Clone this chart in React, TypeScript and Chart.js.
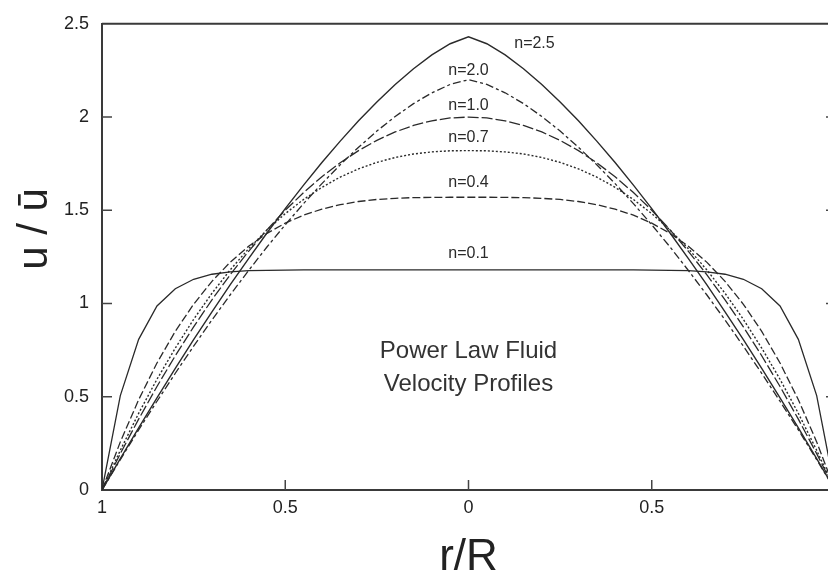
import React, { useEffect, useRef } from "react";
import { Chart, registerables } from "chart.js";

Chart.register(...registerables);

// r/R positions (plotted from wall to wall)
const R = [-1, -0.95, -0.9, -0.85, -0.8, -0.75, -0.7, -0.65, -0.6, -0.55, -0.5, -0.45, -0.4, -0.35, -0.3, -0.25, -0.2, -0.15, -0.1, -0.05, 0, 0.05, 0.1, 0.15, 0.2, 0.25, 0.3, 0.35, 0.4, 0.45, 0.5, 0.55, 0.6, 0.65, 0.7, 0.75, 0.8, 0.85, 0.9, 0.95, 1];

// u / ū
const N25 = [0, 0.168, 0.333, 0.494, 0.652, 0.806, 0.955, 1.101, 1.241, 1.378, 1.509, 1.635, 1.756, 1.871, 1.98, 2.081, 2.175, 2.259, 2.333, 2.393, 2.43, 2.393, 2.333, 2.259, 2.175, 2.081, 1.98, 1.871, 1.756, 1.635, 1.509, 1.378, 1.241, 1.101, 0.955, 0.806, 0.652, 0.494, 0.333, 0.168, 0];
const N20 = [0, 0.163, 0.322, 0.476, 0.626, 0.771, 0.912, 1.047, 1.177, 1.303, 1.422, 1.536, 1.643, 1.744, 1.838, 1.925, 2.003, 2.072, 2.13, 2.175, 2.2, 2.175, 2.13, 2.072, 2.003, 1.925, 1.838, 1.744, 1.643, 1.536, 1.422, 1.303, 1.177, 1.047, 0.912, 0.771, 0.626, 0.476, 0.322, 0.163, 0];
const N10 = [0, 0.195, 0.38, 0.555, 0.72, 0.875, 1.02, 1.155, 1.28, 1.395, 1.5, 1.595, 1.68, 1.755, 1.82, 1.875, 1.92, 1.955, 1.98, 1.995, 2.0, 1.995, 1.98, 1.955, 1.92, 1.875, 1.82, 1.755, 1.68, 1.595, 1.5, 1.395, 1.28, 1.155, 1.02, 0.875, 0.72, 0.555, 0.38, 0.195, 0];
const N07 = [0, 0.213, 0.411, 0.594, 0.761, 0.915, 1.055, 1.181, 1.294, 1.394, 1.482, 1.558, 1.623, 1.678, 1.722, 1.757, 1.783, 1.802, 1.813, 1.819, 1.82, 1.819, 1.813, 1.802, 1.783, 1.757, 1.722, 1.678, 1.623, 1.558, 1.482, 1.394, 1.294, 1.181, 1.055, 0.915, 0.761, 0.594, 0.411, 0.213, 0];
const N04 = [0, 0.258, 0.484, 0.681, 0.851, 0.996, 1.119, 1.222, 1.307, 1.376, 1.431, 1.474, 1.506, 1.53, 1.547, 1.558, 1.564, 1.568, 1.569, 1.57, 1.57, 1.57, 1.569, 1.568, 1.564, 1.558, 1.547, 1.53, 1.506, 1.474, 1.431, 1.376, 1.307, 1.222, 1.119, 0.996, 0.851, 0.681, 0.484, 0.258, 0];
const N01 = [0, 0.506, 0.808, 0.987, 1.079, 1.13, 1.157, 1.17, 1.176, 1.178, 1.179, 1.18, 1.18, 1.18, 1.18, 1.18, 1.18, 1.18, 1.18, 1.18, 1.18, 1.18, 1.18, 1.18, 1.18, 1.18, 1.18, 1.18, 1.18, 1.18, 1.179, 1.178, 1.176, 1.17, 1.157, 1.13, 1.079, 0.987, 0.808, 0.506, 0];

const CURVE_LABELS = ["n=2.5", "n=2.0", "n=1.0", "n=0.7", "n=0.4", "n=0.1"];
const LABEL_X = [0.18, 0, 0, 0, 0, 0];
const LABEL_Y = [2.395, 2.25, 2.06, 1.89, 1.65, 1.27];

const NOTE_LINES = ["Power Law Fluid", "Velocity Profiles"];
const NOTE_Y = [0.709, 0.53];

const X_TITLE = "r/R";
const Y_TITLE = "u / ū";
const Y_TICKS = [0.5, 1, 1.5, 2];
const X_TICKS = [-0.5, 0, 0.5];

const FONT = "'Liberation Sans', Arial, Helvetica, sans-serif";

export default function App() {
  const ref = useRef<HTMLCanvasElement>(null);

  useEffect(() => {
    const canvas = ref.current;
    if (!canvas) return;

    const series = [
      { label: CURVE_LABELS[0], data: N25, dash: [] as number[], width: 1.4 },
      { label: CURVE_LABELS[1], data: N20, dash: [8, 3, 3, 3], width: 1.3 },
      { label: CURVE_LABELS[2], data: N10, dash: [11, 3], width: 1.3 },
      { label: CURVE_LABELS[3], data: N07, dash: [2, 2], width: 1.4 },
      { label: CURVE_LABELS[4], data: N04, dash: [8, 3], width: 1.3 },
      { label: CURVE_LABELS[5], data: N01, dash: [] as number[], width: 1.3 },
    ];

    const decor = {
      id: "decor",
      afterDraw(chart: any) {
        const { ctx, chartArea: a, scales } = chart;
        const x = scales.x;
        const y = scales.y;
        ctx.save();
        // top + right frame
        ctx.strokeStyle = "#3a3a3a";
        ctx.lineWidth = 2;
        ctx.beginPath();
        ctx.moveTo(a.left, a.top);
        ctx.lineTo(a.right, a.top);
        ctx.lineTo(a.right, a.bottom);
        ctx.stroke();
        // inner tick marks
        ctx.lineWidth = 1.5;
        ctx.strokeStyle = "#444";
        ctx.beginPath();
        Y_TICKS.forEach((v) => {
          const py = y.getPixelForValue(v);
          ctx.moveTo(a.left, py);
          ctx.lineTo(a.left + 10, py);
          ctx.moveTo(a.right, py);
          ctx.lineTo(a.right - 9, py);
        });
        X_TICKS.forEach((v) => {
          const px = x.getPixelForValue(v);
          ctx.moveTo(px, a.bottom);
          ctx.lineTo(px, a.bottom - 10);
        });
        ctx.stroke();

        // curve labels
        ctx.fillStyle = "#2a2a2a";
        ctx.font = `16px ${FONT}`;
        ctx.textAlign = "center";
        ctx.textBaseline = "middle";
        CURVE_LABELS.forEach((t, i) => {
          ctx.fillText(t, x.getPixelForValue(LABEL_X[i]), y.getPixelForValue(LABEL_Y[i]));
        });

        // annotation
        ctx.fillStyle = "#333";
        ctx.font = `24px ${FONT}`;
        ctx.textBaseline = "alphabetic";
        NOTE_LINES.forEach((t, i) => {
          ctx.fillText(t, x.getPixelForValue(0), y.getPixelForValue(NOTE_Y[i]));
        });

        // axis titles
        ctx.fillStyle = "#222";
        ctx.font = `44px ${FONT}`;
        ctx.fillText(X_TITLE, x.getPixelForValue(0), 570);
        ctx.save();
        ctx.translate(47, y.getPixelForValue(1.4));
        ctx.rotate(-Math.PI / 2);
        ctx.font = `42px ${FONT}`;
        ctx.fillText(Y_TITLE, 0, 0);
        ctx.restore();
        ctx.restore();
      },
    };

    const chart = new Chart(canvas, {
      type: "line",
      data: {
        datasets: series.map((s) => ({
          label: s.label,
          data: R.map((r, i) => ({ x: r, y: s.data[i] })),
          borderColor: "#2a2a2a",
          borderWidth: s.width,
          borderDash: s.dash,
          pointRadius: 0,
          tension: 0,
          fill: false,
        })),
      },
      options: {
        responsive: false,
        animation: false,
        devicePixelRatio: 1,
        layout: { padding: { left: 0, right: 15, top: 14, bottom: 0 } },
        plugins: {
          legend: { display: false },
          tooltip: { enabled: false },
        },
        scales: {
          x: {
            type: "linear",
            min: -1,
            max: 1,
            afterFit: (s: any) => {
              s.height = 90;
            },
            grid: { display: false, drawTicks: false },
            border: { display: true, color: "#3a3a3a", width: 2 },
            ticks: {
              stepSize: 0.5,
              padding: 7,
              color: "#222",
              font: { family: FONT, size: 18 },
              callback: (v: any) => String(Math.abs(Number(v))),
            },
          },
          y: {
            type: "linear",
            min: 0,
            max: 2.5,
            afterFit: (s: any) => {
              s.width = 102;
            },
            grid: { display: false, drawTicks: false },
            border: { display: true, color: "#3a3a3a", width: 2 },
            ticks: {
              stepSize: 0.5,
              padding: 13,
              color: "#222",
              font: { family: FONT, size: 18 },
              callback: (v: any) => String(Number(v)),
            },
          },
        },
      },
      plugins: [decor],
    });

    return () => chart.destroy();
  }, []);

  return (
    <div
      style={{
        position: "absolute",
        left: 0,
        top: 0,
        width: 828,
        height: 580,
        overflow: "hidden",
        background: "#fff",
      }}
    >
      <canvas ref={ref} width={850} height={580} style={{ display: "block" }} />
    </div>
  );
}
